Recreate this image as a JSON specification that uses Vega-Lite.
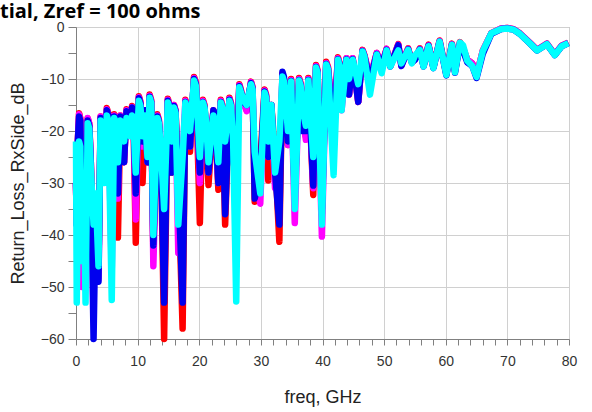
{
  "$schema": "https://vega.github.io/schema/vega-lite/v6.json",
  "width": 493,
  "height": 312,
  "autosize": {"type": "none"},
  "padding": {"left": 76, "top": 27, "right": 23, "bottom": 73},
  "background": "white",
  "title": {"text": "tial, Zref = 100 ohms", "anchor": "start", "frame": "group", "dx": -76, "dy": 20, "offset": 2, "baseline": "alphabetic", "font": "Open Sans", "fontSize": 20, "fontWeight": "bold", "color": "black"},
  "config": {"view": {"stroke": "#A0A0A0", "strokeWidth": 1}},
  "data": {"values": [
    {"f":0.0,"r":-30,"m":-30,"b":-30,"c":-22},
    {"f":0.12,"r":-38,"m":-38,"b":-38,"c":-53},
    {"f":0.3,"r":-22,"m":-22,"b":-22,"c":-35},
    {"f":0.5,"r":-16.6,"m":-16.8,"b":-17.2,"c":-22},
    {"f":0.7,"r":-17.5,"m":-17.8,"b":-18,"c":-23},
    {"f":0.95,"r":-44,"m":-50,"b":-42,"c":-45},
    {"f":1.25,"r":-28,"m":-28,"b":-28,"c":-30},
    {"f":1.55,"r":-40,"m":-42,"b":-40,"c":-53},
    {"f":1.9,"r":-17.6,"m":-17.5,"b":-18,"c":-18.5},
    {"f":2.15,"r":-18.6,"m":-18.5,"b":-19,"c":-19.5},
    {"f":2.4,"r":-26,"m":-26,"b":-26,"c":-27},
    {"f":2.85,"r":-42,"m":-45,"b":-60,"c":-38},
    {"f":3.2,"r":-34,"m":-35,"b":-35,"c":-32},
    {"f":3.65,"r":-46,"m":-48.5,"b":-49,"c":-46},
    {"f":4.0,"r":-17.2,"m":-17.2,"b":-17.5,"c":-18},
    {"f":4.25,"r":-18.2,"m":-18.2,"b":-18.5,"c":-19},
    {"f":4.6,"r":-28,"m":-28,"b":-28,"c":-30},
    {"f":5.0,"r":-15.6,"m":-15.8,"b":-16,"c":-17},
    {"f":5.25,"r":-16.6,"m":-16.8,"b":-17,"c":-18},
    {"f":5.8,"r":-34,"m":-47,"b":-30,"c":-52.5},
    {"f":6.2,"r":-16.8,"m":-17,"b":-17.2,"c":-17.5},
    {"f":6.45,"r":-17.8,"m":-18,"b":-18.2,"c":-18.5},
    {"f":6.8,"r":-40.5,"m":-33,"b":-32,"c":-26},
    {"f":7.2,"r":-17,"m":-17,"b":-17.2,"c":-18},
    {"f":7.45,"r":-18,"m":-18,"b":-18.2,"c":-19},
    {"f":7.8,"r":-26,"m":-26,"b":-26,"c":-22},
    {"f":8.2,"r":-15.8,"m":-16,"b":-16.2,"c":-17.5},
    {"f":8.45,"r":-16.8,"m":-17,"b":-17.2,"c":-18.5},
    {"f":8.8,"r":-20,"m":-20,"b":-20,"c":-21},
    {"f":9.1,"r":-15.2,"m":-15.4,"b":-15.5,"c":-17},
    {"f":9.3,"r":-16.2,"m":-16.4,"b":-16.5,"c":-18},
    {"f":9.7,"r":-41.5,"m":-37,"b":-32,"c":-28},
    {"f":10.2,"r":-13.3,"m":-13.5,"b":-13.7,"c":-14.2},
    {"f":10.45,"r":-14.3,"m":-14.5,"b":-14.7,"c":-15.2},
    {"f":10.8,"r":-30,"m":-23,"b":-22,"c":-21},
    {"f":11.2,"r":-16,"m":-16,"b":-16,"c":-17},
    {"f":11.6,"r":-26,"m":-26,"b":-26,"c":-25},
    {"f":11.95,"r":-13,"m":-13.2,"b":-13.4,"c":-13.6},
    {"f":12.2,"r":-14,"m":-14.2,"b":-14.4,"c":-14.6},
    {"f":12.55,"r":-43,"m":-46,"b":-42,"c":-40},
    {"f":13.2,"r":-16.8,"m":-17,"b":-17.2,"c":-17.5},
    {"f":13.45,"r":-17.8,"m":-18,"b":-18.2,"c":-18.5},
    {"f":13.8,"r":-25,"m":-25,"b":-25,"c":-24},
    {"f":14.3,"r":-60,"m":-38,"b":-53,"c":-35},
    {"f":14.9,"r":-13.8,"m":-14,"b":-14.2,"c":-14.5},
    {"f":15.15,"r":-14.8,"m":-15,"b":-15.2,"c":-15.5},
    {"f":15.5,"r":-28,"m":-27,"b":-28,"c":-22},
    {"f":15.9,"r":-15,"m":-15,"b":-15.2,"c":-15.5},
    {"f":16.15,"r":-16,"m":-16,"b":-16.2,"c":-16.5},
    {"f":16.6,"r":-30,"m":-43.5,"b":-30,"c":-38},
    {"f":17.3,"r":-58,"m":-25,"b":-53,"c":-25},
    {"f":17.75,"r":-14,"m":-14.2,"b":-14.4,"c":-14.5},
    {"f":18.0,"r":-15,"m":-15.2,"b":-15.4,"c":-15.5},
    {"f":18.5,"r":-24,"m":-23,"b":-23,"c":-20},
    {"f":19.15,"r":-9.6,"m":-9.8,"b":-10,"c":-10.3},
    {"f":19.45,"r":-10.6,"m":-10.8,"b":-11,"c":-11.3},
    {"f":20.1,"r":-37.7,"m":-30,"b":-28,"c":-25},
    {"f":20.6,"r":-14,"m":-14.2,"b":-14.4,"c":-14.5},
    {"f":20.85,"r":-15,"m":-15.2,"b":-15.4,"c":-15.5},
    {"f":21.1,"r":-20,"m":-20,"b":-20,"c":-18},
    {"f":21.5,"r":-30.4,"m":-28,"b":-28,"c":-26},
    {"f":22.3,"r":-16,"m":-16,"b":-16,"c":-17},
    {"f":22.55,"r":-17,"m":-17,"b":-17,"c":-18},
    {"f":23.1,"r":-31.3,"m":-30,"b":-30,"c":-26},
    {"f":23.5,"r":-14,"m":-14.2,"b":-14.4,"c":-14.5},
    {"f":23.75,"r":-15,"m":-15.2,"b":-15.4,"c":-15.5},
    {"f":24.2,"r":-38,"m":-30,"b":-36,"c":-22},
    {"f":24.9,"r":-13.6,"m":-13.8,"b":-14,"c":-14.2},
    {"f":25.15,"r":-14.6,"m":-14.8,"b":-15,"c":-15.2},
    {"f":25.5,"r":-25,"m":-25,"b":-25,"c":-22},
    {"f":26.0,"r":-30,"m":-30,"b":-30,"c":-52.8},
    {"f":26.5,"r":-11,"m":-11.2,"b":-11.4,"c":-11.6},
    {"f":26.75,"r":-12,"m":-12.2,"b":-12.4,"c":-12.6},
    {"f":27.2,"r":-14.5,"m":-14.5,"b":-14.5,"c":-14},
    {"f":27.7,"r":-16,"m":-16.2,"b":-15,"c":-15},
    {"f":28.4,"r":-10.5,"m":-10.6,"b":-10.8,"c":-11},
    {"f":28.65,"r":-11.5,"m":-11.6,"b":-11.8,"c":-12},
    {"f":29.0,"r":-33.6,"m":-28,"b":-33,"c":-24},
    {"f":29.9,"r":-26,"m":-34,"b":-28,"c":-32},
    {"f":30.6,"r":-12,"m":-12.2,"b":-12.4,"c":-12.6},
    {"f":30.85,"r":-13,"m":-13.2,"b":-13.4,"c":-13.6},
    {"f":31.2,"r":-29.5,"m":-25,"b":-25,"c":-22},
    {"f":31.7,"r":-15,"m":-15,"b":-15,"c":-15},
    {"f":32.3,"r":-25,"m":-31,"b":-28,"c":-28},
    {"f":33.0,"r":-41.3,"m":-30,"b":-38,"c":-22},
    {"f":33.5,"r":-9,"m":-9.2,"b":-8.6,"c":-9.5},
    {"f":33.75,"r":-10,"m":-10.2,"b":-9.6,"c":-10.5},
    {"f":34.4,"r":-22.7,"m":-22.7,"b":-22,"c":-20},
    {"f":34.9,"r":-10,"m":-10.2,"b":-10.4,"c":-10.5},
    {"f":35.5,"r":-32,"m":-37.7,"b":-32,"c":-35},
    {"f":36.2,"r":-9.8,"m":-10,"b":-10.2,"c":-10.3},
    {"f":36.45,"r":-10.8,"m":-11,"b":-11.2,"c":-11.3},
    {"f":36.8,"r":-17,"m":-17,"b":-20,"c":-16},
    {"f":37.3,"r":-21,"m":-21.7,"b":-20,"c":-19},
    {"f":37.7,"r":-9.8,"m":-10,"b":-10.2,"c":-10.3},
    {"f":38.5,"r":-32.3,"m":-31,"b":-30.5,"c":-25},
    {"f":38.95,"r":-7.3,"m":-7.5,"b":-7.7,"c":-7.8},
    {"f":39.2,"r":-8.3,"m":-8.5,"b":-8.7,"c":-8.8},
    {"f":39.9,"r":-36,"m":-40.3,"b":-35,"c":-38},
    {"f":40.6,"r":-6.7,"m":-6.9,"b":-7.1,"c":-7.2},
    {"f":40.9,"r":-7.7,"m":-7.9,"b":-8.1,"c":-8.2},
    {"f":41.8,"r":-20,"m":-20,"b":-22,"c":-28.5},
    {"f":42.5,"r":-5.8,"m":-6,"b":-6.2,"c":-6.3},
    {"f":42.75,"r":-6.8,"m":-7,"b":-7.2,"c":-7.3},
    {"f":43.1,"r":-15,"m":-16,"b":-13,"c":-16},
    {"f":43.9,"r":-6,"m":-6,"b":-6.2,"c":-6.3},
    {"f":44.3,"r":-13,"m":-13,"b":-13,"c":-10},
    {"f":44.9,"r":-6,"m":-6,"b":-6.2,"c":-6.3},
    {"f":45.8,"r":-14.4,"m":-14.4,"b":-14.4,"c":-11},
    {"f":46.5,"r":-4.4,"m":-4.5,"b":-4.6,"c":-4.7},
    {"f":46.8,"r":-5.4,"m":-5.5,"b":-5.6,"c":-5.7},
    {"f":47.7,"r":-10,"m":-10,"b":-10.5,"c":-13},
    {"f":48.8,"r":-5,"m":-5,"b":-5.2,"c":-5.3},
    {"f":49.6,"r":-7.5,"m":-7.5,"b":-7.5,"c":-8.9},
    {"f":50.4,"r":-4.2,"m":-4.2,"b":-4.4,"c":-4.5},
    {"f":51.0,"r":-7.5,"m":-7.5,"b":-7.6,"c":-7.6},
    {"f":52.3,"r":-3.3,"m":-3.4,"b":-3.5,"c":-4.5},
    {"f":52.8,"r":-7.3,"m":-7.4,"b":-7.5,"c":-7},
    {"f":53.9,"r":-4.1,"m":-4.2,"b":-4.3,"c":-4.4},
    {"f":54.5,"r":-6.8,"m":-6.8,"b":-6.8,"c":-7},
    {"f":55.0,"r":-6.2,"m":-6.2,"b":-6.3,"c":-5.5},
    {"f":55.8,"r":-4.1,"m":-4.2,"b":-4.3,"c":-4.4},
    {"f":56.4,"r":-7.4,"m":-7.5,"b":-7.6,"c":-7.6},
    {"f":57.2,"r":-3.4,"m":-3.5,"b":-3.6,"c":-3.7},
    {"f":58.0,"r":-7.7,"m":-7.8,"b":-7.9,"c":-7.9},
    {"f":59.0,"r":-2.6,"m":-2.7,"b":-2.8,"c":-2.8},
    {"f":60.1,"r":-9,"m":-9,"b":-9.3,"c":-9.2},
    {"f":61.0,"r":-3.2,"m":-3.3,"b":-3.4,"c":-3.4},
    {"f":61.5,"r":-8.5,"m":-8.5,"b":-8.8,"c":-8.7},
    {"f":62.3,"r":-2.9,"m":-3,"b":-3.2,"c":-3},
    {"f":62.8,"r":-4,"m":-4,"b":-4.5,"c":-3.5},
    {"f":63.5,"r":-6.3,"m":-6.3,"b":-6.8,"c":-6.5},
    {"f":64.3,"r":-7,"m":-7,"b":-7.5,"c":-7.5},
    {"f":65.0,"r":-9.4,"m":-9.4,"b":-9.8,"c":-9.6},
    {"f":66.0,"r":-4.6,"m":-4.6,"b":-5.2,"c":-4.7},
    {"f":67.4,"r":-1.2,"m":-1.2,"b":-1.3,"c":-1.2},
    {"f":69.0,"r":-0.3,"m":-0.3,"b":-0.4,"c":-0.4},
    {"f":70.0,"r":-0.2,"m":-0.2,"b":-0.3,"c":-0.3},
    {"f":71.0,"r":-0.4,"m":-0.4,"b":-0.5,"c":-0.5},
    {"f":72.0,"r":-1.2,"m":-1.2,"b":-1.3,"c":-1.3},
    {"f":73.7,"r":-3.1,"m":-3.1,"b":-3.2,"c":-3.2},
    {"f":74.8,"r":-4.4,"m":-4.4,"b":-4.5,"c":-4.5},
    {"f":76.4,"r":-3.2,"m":-3.2,"b":-3.3,"c":-3.3},
    {"f":77.7,"r":-5.3,"m":-5.3,"b":-5.4,"c":-5.4},
    {"f":78.8,"r":-3.6,"m":-3.6,"b":-3.7,"c":-3.7},
    {"f":79.9,"r":-3.0,"m":-3.0,"b":-3.1,"c":-3.1}
  ]},
  "transform": [{"fold": ["r", "m", "b", "c"], "as": ["s", "v"]}],
  "encoding": {
    "x": {"field": "f", "type": "quantitative", "scale": {"domain": [0, 80], "nice": false, "zero": false},
      "axis": {"title": "freq, GHz", "values": [0,2,4,6,8,10,12,14,16,18,20,22,24,26,28,30,32,34,36,38,40,42,44,46,48,50,52,54,56,58,60,62,64,66,68,70,72,74,76,78,80],
        "labelExpr": "datum.value % 10 === 0 ? datum.label : ''", "labelFlush": false, "labelOverlap": false,
        "gridOpacity": {"condition": {"test": "datum.value % 10 !== 0", "value": 0}, "value": 1},
        "gridColor": "#D0D0D0", "domainColor": "#808080", "tickColor": "#808080", "tickSize": 6, "labelPadding": 9,
        "labelFont": "Liberation Sans", "labelFontSize": 14, "labelColor": "#333",
        "titleFont": "Liberation Sans", "titleFontSize": 18, "titleFontWeight": "normal", "titleColor": "#222", "titlePadding": 20}},
    "y": {"field": "v", "type": "quantitative", "scale": {"domain": [-60, 0], "nice": false, "zero": false},
      "axis": {"title": "Return_Loss_RxSide_dB", "values": [-60,-55,-50,-45,-40,-35,-30,-25,-20,-15,-10,-5,0],
        "labelExpr": "datum.value % 10 === 0 ? datum.label : ''", "labelFlush": false, "labelOverlap": false,
        "gridOpacity": {"condition": {"test": "datum.value % 10 !== 0", "value": 0}, "value": 1},
        "gridColor": "#D0D0D0", "domainColor": "#808080", "tickColor": "#808080", "tickSize": 8, "labelPadding": 4,
        "labelFont": "Liberation Sans", "labelFontSize": 14, "labelColor": "#333",
        "titleFont": "Liberation Sans", "titleFontSize": 18, "titleFontWeight": "normal", "titleColor": "#222", "titlePadding": 13}}
  },
  "layer": [
    {"transform": [{"filter": "datum.s === 'r'"}], "mark": {"type": "line", "color": "#FF0000", "strokeWidth": 6.5, "strokeJoin": "round"}},
    {"transform": [{"filter": "datum.s === 'm'"}], "mark": {"type": "line", "color": "#FF00FF", "strokeWidth": 6.5, "strokeJoin": "round"}},
    {"transform": [{"filter": "datum.s === 'b'"}], "mark": {"type": "line", "color": "#0000EE", "strokeWidth": 6.5, "strokeJoin": "round"}},
    {"transform": [{"filter": "datum.s === 'c'"}], "mark": {"type": "line", "color": "#00FFFF", "strokeWidth": 6.5, "strokeJoin": "round"}}
  ]
}
